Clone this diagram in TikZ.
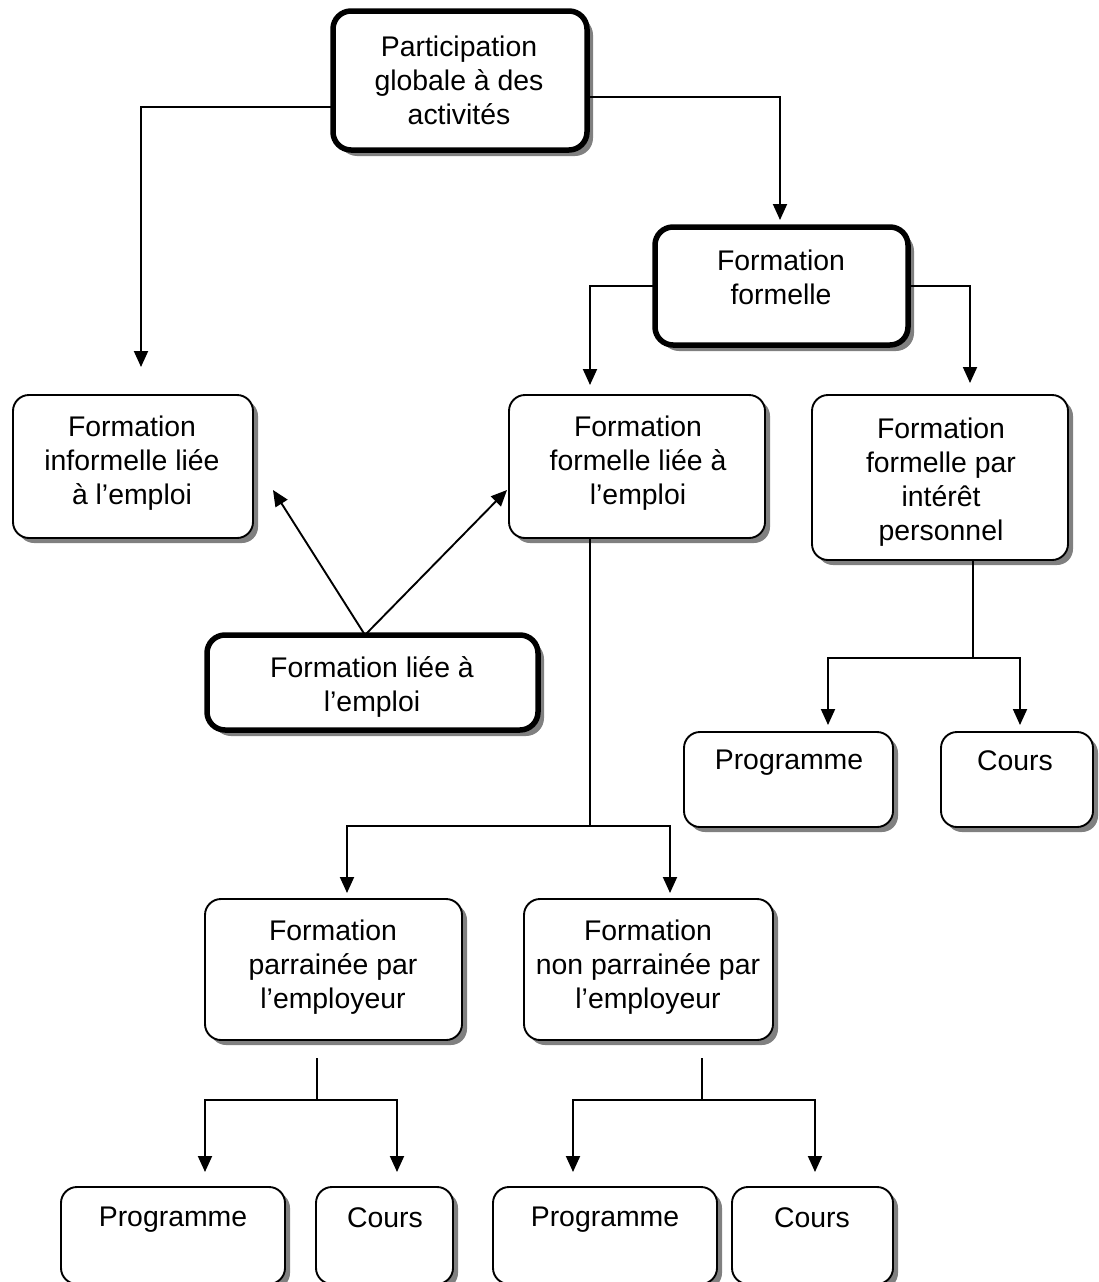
\documentclass[tikz,border=0pt]{standalone}
\usepackage{fontspec}
\setmainfont{Liberation Sans}
\usetikzlibrary{arrows.meta,shadows}
\tikzset{
  boxbase/.style={draw, fill=white, inner sep=0pt, outer sep=0pt},
  thinbox/.style={boxbase, line width=1.9pt, rounded corners=16pt,
    drop shadow={shadow xshift=5pt, shadow yshift=-5pt, fill=black!50, opacity=1}},
  thickbox/.style={boxbase, line width=5.5pt, rounded corners=18pt,
    drop shadow={shadow xshift=6pt, shadow yshift=-6pt, fill=black!50, opacity=1}},
  txt/.style={font=\fontsize{28.4pt}{34pt}\selectfont, align=center, inner sep=0pt, anchor=north},
  plain/.style={line width=1.9pt},
  conn/.style={line width=1.9pt, -{Triangle[length=16pt,width=14pt]}},
}
\begin{document}
\begin{tikzpicture}[x=1pt,y=-1pt]
\clip (0,0) rectangle (1099,1282);
\fill[white] (0,0) rectangle (1099,1282);
% boxes
\node[thickbox, minimum width=254pt, minimum height=139pt] (pp) at (460,80.5) {};
\node[thickbox, minimum width=253pt, minimum height=118pt] (ff) at (781.5,286) {};
\node[thinbox, minimum width=240pt, minimum height=143pt] (inf) at (133,466.5) {};
\node[thinbox, minimum width=256pt, minimum height=143pt] (fle) at (637,466.5) {};
\node[thinbox, minimum width=256pt, minimum height=165pt] (fip) at (940,477.5) {};
\node[thickbox, minimum width=331pt, minimum height=95pt] (emp) at (372.5,682.5) {};
\node[thinbox, minimum width=209pt, minimum height=95pt] (pr1) at (788.5,779.5) {};
\node[thinbox, minimum width=152pt, minimum height=95pt] (co1) at (1017,779.5) {};
\node[thinbox, minimum width=257pt, minimum height=141pt] (par) at (333.5,969.5) {};
\node[thinbox, minimum width=249pt, minimum height=141pt] (npar) at (648.5,969.5) {};
\node[thinbox, minimum width=224pt, minimum height=97pt] (pr2) at (173,1235.5) {};
\node[thinbox, minimum width=137pt, minimum height=97pt] (co2) at (384.5,1235.5) {};
\node[thinbox, minimum width=224pt, minimum height=97pt] (pr3) at (605,1235.5) {};
\node[thinbox, minimum width=161pt, minimum height=97pt] (co3) at (812.5,1235.5) {};
% texts
\node[txt] (pp-t) at (459,36) {Participation\\globale à des\\activités};
\node[txt] (ff-t) at (781,250) {Formation\\formelle};
\node[txt] (inf-t) at (132,416) {Formation\\informelle liée\\à l’emploi};
\node[txt] (fle-t) at (638,416) {Formation\\formelle liée à\\l’emploi};
\node[txt] (fip-t) at (941,418) {Formation\\formelle par\\intérêt\\personnel};
\node[txt] (emp-t) at (372,656) {Formation liée à\\l’emploi};
\node[txt] (par-t) at (333,920) {Formation\\parrainée par\\l’employeur};
\node[txt] (npar-t) at (648,920) {Formation\\non parrainée par\\l’employeur};
\node[txt] (pr1-t) at (789,750) {Programme};
\node[txt] (co1-t) at (1015,750) {Cours};
\node[txt] (pr2-t) at (173,1207) {Programme};
\node[txt] (co2-t) at (385,1207) {Cours};
\node[txt] (pr3-t) at (605,1207) {Programme};
\node[txt] (co3-t) at (812,1207) {Cours};
% junctions
\coordinate (j1) at (590,826);
\coordinate (j2) at (973,658);
\coordinate (j3) at (317,1100);
\coordinate (j4) at (702,1100);
% connectors
\draw[conn] ([yshift=-26.5pt]pp.west) -| ([xshift=8pt,yshift=28pt]inf.north);
\draw[conn] ([yshift=-16.5pt]pp.east) -| ([xshift=-1.5pt,yshift=7pt]ff.north);
\draw[conn] (ff.west) -| ([xshift=-47pt,yshift=10pt]fle.north);
\draw[conn] (ff.east) -| ([xshift=30pt,yshift=12pt]fip.north);
\draw[conn] ([xshift=-7.5pt]emp.north) -- ([xshift=20pt,yshift=-23.5pt]inf.east);
\draw[conn] ([xshift=-7.5pt]emp.north) -- ([xshift=-2pt,yshift=-23.5pt]fle.west);
\draw[plain] ([xshift=-47pt]fle.south) -- (j1);
\draw[conn] (j1) -| ([xshift=13.5pt,yshift=6pt]par.north);
\draw[conn] (j1) -| ([xshift=21.5pt,yshift=6pt]npar.north);
\draw[plain] ([xshift=33pt]fip.south) -- (j2);
\draw[conn] (j2) -| ([xshift=39.5pt,yshift=7pt]pr1.north);
\draw[conn] (j2) -| ([xshift=3pt,yshift=7pt]co1.north);
\draw[plain] ([xshift=-16.5pt,yshift=-18pt]par.south) -- (j3);
\draw[conn] (j3) -| ([xshift=32pt,yshift=15pt]pr2.north);
\draw[conn] (j3) -| ([xshift=12.5pt,yshift=15pt]co2.north);
\draw[plain] ([xshift=53.5pt,yshift=-18pt]npar.south) -- (j4);
\draw[conn] (j4) -| ([xshift=-32pt,yshift=15pt]pr3.north);
\draw[conn] (j4) -| ([xshift=2.5pt,yshift=15pt]co3.north);
\end{tikzpicture}
\end{document}
